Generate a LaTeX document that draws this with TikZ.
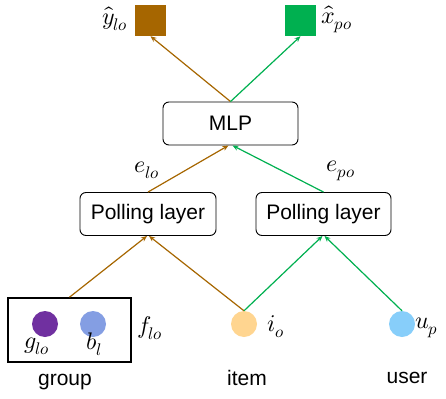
\documentclass[tikz,border=0pt]{standalone}
\usepackage{fontspec}
\usepackage{unicode-math}
\setmainfont{Liberation Sans}
\setmathfont{Latin Modern Math}
\usetikzlibrary{arrows.meta}

\definecolor{lossbrown}{HTML}{A66600}
\definecolor{lossgreen}{HTML}{00B050}
\definecolor{grouppurple}{HTML}{7030A0}
\definecolor{biasblue}{HTML}{849EE3}
\definecolor{itemorange}{HTML}{FFD590}
\definecolor{userblue}{HTML}{87CEFA}

\tikzset{
    layerbox/.style = {draw, rounded corners = 6pt, line width = 0.9pt, inner sep = 0pt,
        minimum height = 43pt, font = \fontsize{21}{25}\selectfont},
    outsq/.style = {fill = #1, inner sep = 0pt, minimum size = 31pt},
    dot/.style = {circle, fill = #1, inner sep = 0pt, minimum size = 26pt},
    lbl/.style = {inner sep = 1pt, font = \fontsize{24}{28}\selectfont},
    caption/.style = {inner sep = 1pt, font = \fontsize{21}{25}\selectfont},
    brownarr/.style = {draw = lossbrown, line width = 1.2pt, -{Stealth[length = 6pt, width = 5pt]}},
    greenarr/.style = {draw = lossgreen, line width = 1.2pt, -{Stealth[length = 6pt, width = 5pt]}}
}

\begin{document}
\begin{tikzpicture}[x = 1pt, y = -1pt]
    \useasboundingbox (0,0) rectangle (446,398);
    % outputs
    \node [outsq = lossbrown] (Y) at (150.5,20.5) {};
    \node [outsq = lossgreen] (X) at (300.5,20.5) {};
    \node [lbl, anchor = east] (YL) at (129,19) {$\hat{y}_{lo}$};
    \node [lbl, anchor = west] (XL) at (320,19) {$\hat{x}_{po}$};
    % layers
    \node [layerbox, minimum width = 135pt] (MLP) at (230.5,123.5) {MLP};
    \node [layerbox, minimum width = 136pt] (PL) at (148,214) {Polling layer};
    \node [layerbox, minimum width = 135pt] (PR) at (323.5,214) {Polling layer};
    \node [lbl] (EL) at (147,170) {$e_{lo}$};
    \node [lbl] (EP) at (341,171) {$e_{po}$};
    % inputs
    \node [draw, line width = 1.6pt, minimum width = 123pt, minimum height = 64pt, inner sep = 0pt] (G) at (69.5,330) {};
    \node [dot = grouppurple] (g) at (45,324) {};
    \node [dot = biasblue] (b) at (93,324) {};
    \node [dot = itemorange] (I) at (244,324) {};
    \node [dot = userblue] (U) at (402,324) {};
    \node [lbl] (gL) at (37,346) {$g_{lo}$};
    \node [lbl] (bL) at (94,344) {$b_{l}$};
    \node [lbl] (fL) at (150,328) {$f_{lo}$};
    \node [lbl] (iL) at (276,327) {$i_{o}$};
    \node [lbl, anchor = west] (uL) at (414,328) {$u_{p}$};
    \node [caption] (gT) at (65,382) {group};
    \node [caption] (iT) at (247,378) {item};
    \node [caption] (uT) at (407,378) {user};
    % connectors
    \draw [brownarr] (G.north) -- ([xshift = -1pt]PL.south);
    \draw [brownarr] (I.north) -- ([xshift = 1pt]PL.south);
    \draw [greenarr] (I.north) -- ([xshift = -1pt]PR.south);
    \draw [greenarr] (U.north) -- ([xshift = 1pt]PR.south);
    \draw [brownarr] (PL.north) -- ([xshift = -2pt]MLP.south);
    \draw [greenarr] (PR.north) -- ([xshift = 2pt]MLP.south);
    \draw [brownarr] (MLP.north) -- (Y.south);
    \draw [greenarr] (MLP.north) -- (X.south);
\end{tikzpicture}
\end{document}
